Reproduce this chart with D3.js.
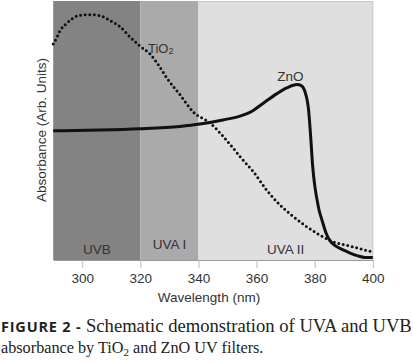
<!DOCTYPE html>
<html>
<head>
<meta charset="utf-8">
<script src="https://cdn.jsdelivr.net/npm/d3@7"></script>
<style>
  body { margin: 0; background: #fff; }
  svg { display: block; }
</style>
</head>
<body>
<svg id="chart" width="413" height="363"></svg>
<script>
// UV bands (nm)
const bandNames = ['UVB', 'UVA I', 'UVA II'];
const bandStart = [290, 320, 340];
const bandEnd = [320, 340, 400];
const bandColors = ['#838383', '#aaaaaa', '#dfdfdf'];

// TiO2 absorbance (dotted)
const tioWl = [290, 291.2, 292.3, 294.4, 296.4, 299.2, 302.9, 306.1, 309.6, 313, 316.5, 320.1, 323.3, 326.2, 329.1, 333.7, 338.2, 344, 348.6, 352, 354.3, 358.9, 363.5, 368.1, 372.7, 377.3, 381.8, 386.4, 392.1, 400];
const tioAbs = [0.833, 0.857, 0.884, 0.911, 0.930, 0.945, 0.947, 0.943, 0.924, 0.900, 0.860, 0.823, 0.795, 0.752, 0.702, 0.636, 0.570, 0.527, 0.474, 0.429, 0.397, 0.338, 0.267, 0.209, 0.164, 0.125, 0.093, 0.067, 0.050, 0.027];

// ZnO absorbance (solid)
const znoWl = [290, 306.1, 319.9, 333.6, 340.5, 348.4, 354.3, 357.7, 362.2, 367.0, 370.4, 373.9, 375.5, 376.7, 377.4, 377.9, 378.4, 378.7, 379.3, 379.9, 380.7, 381.5, 382.5, 383.9, 385.3, 387.3, 389.8, 392.2, 394.9, 397.3, 400];
const znoAbs = [0.497, 0.500, 0.505, 0.514, 0.523, 0.539, 0.554, 0.568, 0.603, 0.641, 0.663, 0.676, 0.671, 0.647, 0.616, 0.578, 0.508, 0.461, 0.360, 0.295, 0.236, 0.190, 0.151, 0.101, 0.070, 0.050, 0.035, 0.023, 0.012, 0.006, 0.006];

const xTicks = [300, 320, 340, 360, 380, 400];

const svg = d3.select('#chart');
const plotLeft = 53.2, plotRight = 372.8, plotTop = 1, plotBottom = 260;
const sans = "'Liberation Sans', Arial, sans-serif";
const serif = "'Liberation Serif', 'Times New Roman', serif";

const x = d3.scaleLinear().domain([290, 400]).range([plotLeft, plotRight]);
const y = d3.scaleLinear().domain([0, 1]).range([plotBottom - 1, plotTop]);

// bands
svg.selectAll('.band')
    .data(bandNames)
    .enter().append('rect')
    .attr('x', (d, i) => x(bandStart[i]))
    .attr('y', plotTop)
    .attr('width', (d, i) => x(bandEnd[i]) - x(bandStart[i]))
    .attr('height', plotBottom - plotTop)
    .attr('fill', (d, i) => bandColors[i]);

// frame top / right
svg.append('line').attr('x1', x(340)).attr('x2', plotRight).attr('y1', plotTop + 0.5).attr('y2', plotTop + 0.5)
    .attr('stroke', '#c8c8c8');
svg.append('line').attr('x1', plotRight).attr('x2', plotRight).attr('y1', plotTop).attr('y2', plotBottom)
    .attr('stroke', '#c4c4c4');

// band labels
const labelY = [249, 244, 249];
svg.selectAll('.bandLabel')
    .data(bandNames)
    .enter().append('text')
    .attr('x', (d, i) => x((bandStart[i] + bandEnd[i]) / 2))
    .attr('y', (d, i) => labelY[i])
    .attr('dy', '0.35em')
    .attr('text-anchor', 'middle')
    .style('font-family', sans)
    .style('font-size', '13.5px')
    .attr('fill', '#333')
    .text(d => d);

// x axis
const xAxis = d3.axisBottom(x).tickValues(xTicks).tickSize(8).tickSizeOuter(0).tickPadding(5);
const gx = svg.append('g').attr('transform', `translate(0,${plotBottom})`).call(xAxis);
gx.select('.domain').attr('stroke', '#9a9a9a');
gx.selectAll('.tick line').attr('stroke', '#bbbbbb');
gx.selectAll('.tick text')
    .style('font-family', sans)
    .style('font-size', '13.5px')
    .attr('fill', '#333');

svg.append('text')
    .attr('x', (plotLeft + plotRight) / 2 - 4)
    .attr('y', 297)
    .attr('dy', '0.35em')
    .attr('text-anchor', 'middle')
    .style('font-family', sans)
    .style('font-size', '13.5px')
    .attr('fill', '#333')
    .text('Wavelength (nm)');

svg.append('text')
    .attr('transform', 'translate(41,130) rotate(-90)')
    .attr('dy', '0.35em')
    .attr('text-anchor', 'middle')
    .style('font-family', sans)
    .style('font-size', '13.5px')
    .attr('fill', '#333')
    .text('Absorbance (Arb. Units)');

// curves
const line = d3.line()
    .x(d => x(d[0]))
    .y(d => y(d[1]))
    .curve(d3.curveMonotoneX);

svg.append('path')
    .datum(tioWl.map((w, i) => [w, tioAbs[i]]))
    .attr('d', line)
    .attr('fill', 'none')
    .attr('stroke', '#111')
    .attr('stroke-width', 3)
    .attr('stroke-dasharray', '0 4.6')
    .attr('stroke-linecap', 'round');

svg.append('path')
    .datum(znoWl.map((w, i) => [w, znoAbs[i]]))
    .attr('d', line)
    .attr('fill', 'none')
    .attr('stroke', '#111')
    .attr('stroke-width', 3)
    .attr('stroke-linejoin', 'round');

// curve labels
const tioLabel = svg.append('text')
    .attr('x', 148)
    .attr('y', 48)
    .attr('dy', '0.35em')
    .style('font-family', sans)
    .style('font-size', '13px')
    .attr('fill', '#333');
tioLabel.append('tspan').text('TiO');
tioLabel.append('tspan').style('font-size', '9px').attr('dy', '0.15em').text('2');

svg.append('text')
    .attr('x', 290.5)
    .attr('y', 76)
    .attr('dy', '0.35em')
    .attr('text-anchor', 'middle')
    .style('font-family', sans)
    .style('font-size', '13.5px')
    .attr('fill', '#333')
    .text('ZnO');

// caption
const cap1 = svg.append('text')
    .attr('x', 1)
    .attr('y', 332)
    .attr('fill', '#222');
cap1.append('tspan')
    .style('font-family', "'Open Sans', 'DejaVu Sans', sans-serif")
    .style('font-weight', 'bold')
    .style('font-size', '14.5px')
    .style('letter-spacing', '0.8px')
    .text('FIGURE 2 - ');
const cap1b = cap1.append('tspan')
    .style('font-family', serif)
    .style('font-size', '18px')
    .text('Schematic demonstration of UVA and UVB');

const cap2 = svg.append('text')
    .attr('x', 1)
    .attr('y', 353)
    .style('font-family', serif)
    .style('font-size', '18px')
    .attr('fill', '#222');
cap2.append('tspan').text('absorbance by TiO');
cap2.append('tspan').style('font-size', '11px').attr('dy', 3).text('2');
cap2.append('tspan').attr('dy', -3).text(' and ZnO UV filters.');

// fit caption lines to the widths they take in the figure
function fitWidth(textSel, target, sizeSel, base) {
    const w = textSel.node().getBBox().width;
    if (w > 0) sizeSel.style('font-size', (base * target / w) + 'px');
}
const w1 = cap1.node().getBBox().width;
const wb = cap1b.node().getComputedTextLength();
if (wb > 0) cap1b.style('font-size', (18 * (wb + (411 - w1)) / wb) + 'px');
fitWidth(cap2, 262, cap2, 18);
</script>
</body>
</html>
